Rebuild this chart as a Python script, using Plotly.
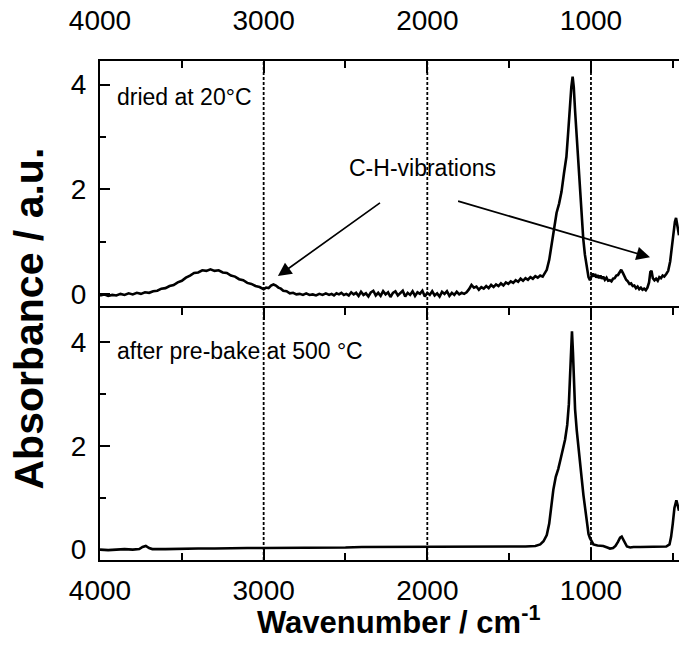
import plotly.graph_objects as go

# IR absorbance spectra, (wavenumber cm^-1, absorbance) pairs
dried = [
    (4000, -0.03), (3975, -0.01), (3950, -0.04), (3925, -0.02), (3900, -0.03),
    (3875, 0.00), (3850, -0.02), (3825, 0.01), (3800, -0.01), (3775, 0.02),
    (3750, 0.00), (3725, 0.03), (3700, 0.02), (3675, 0.05), (3650, 0.06),
    (3625, 0.10), (3600, 0.11), (3575, 0.15), (3550, 0.17), (3525, 0.22),
    (3500, 0.25), (3475, 0.31), (3450, 0.35), (3425, 0.40), (3400, 0.41),
    (3375, 0.45), (3350, 0.44), (3325, 0.47), (3300, 0.44), (3275, 0.45),
    (3250, 0.41), (3225, 0.40), (3200, 0.35), (3175, 0.33), (3150, 0.28),
    (3125, 0.26), (3100, 0.21), (3075, 0.19), (3050, 0.15), (3025, 0.13),
    (3000, 0.09), (2985, 0.12), (2970, 0.11), (2955, 0.16), (2940, 0.18),
    (2925, 0.16), (2910, 0.12), (2895, 0.10), (2880, 0.06), (2860, 0.05),
    (2840, 0.01), (2820, 0.02), (2800, -0.01), (2780, 0.00), (2760, -0.02),
    (2740, 0.01), (2720, -0.02), (2700, -0.01), (2680, -0.03), (2660, 0.00),
    (2640, -0.02), (2620, 0.01), (2600, -0.02), (2585, 0.00), (2570, -0.03),
    (2555, 0.01), (2540, -0.01), (2525, 0.02), (2510, -0.02), (2495, 0.00),
    (2480, -0.03), (2465, 0.03), (2450, -0.01), (2435, 0.02), (2420, -0.04),
    (2405, 0.04), (2390, -0.02), (2375, 0.01), (2360, -0.05), (2345, 0.03),
    (2330, 0.06), (2315, -0.03), (2300, 0.02), (2285, -0.04), (2270, 0.05),
    (2255, -0.01), (2240, 0.03), (2225, -0.06), (2210, 0.02), (2195, 0.05),
    (2180, -0.03), (2165, 0.01), (2150, 0.06), (2135, -0.05), (2120, 0.02),
    (2105, -0.02), (2090, 0.05), (2075, -0.04), (2060, 0.03), (2045, 0.00),
    (2030, 0.06), (2015, -0.05), (2000, 0.02), (1985, -0.02), (1970, 0.05),
    (1955, -0.03), (1940, 0.01), (1925, -0.05), (1910, 0.04), (1895, 0.00),
    (1880, 0.05), (1865, -0.04), (1850, 0.02), (1835, -0.02), (1820, 0.04),
    (1805, -0.01), (1790, 0.02), (1775, 0.00), (1760, 0.03), (1745, 0.09),
    (1730, 0.17), (1715, 0.12), (1700, 0.14), (1685, 0.08), (1670, 0.13),
    (1655, 0.10), (1640, 0.15), (1625, 0.11), (1610, 0.17), (1595, 0.13),
    (1580, 0.18), (1565, 0.15), (1550, 0.20), (1535, 0.16), (1520, 0.22),
    (1505, 0.19), (1490, 0.24), (1475, 0.21), (1460, 0.26), (1445, 0.23),
    (1430, 0.29), (1415, 0.25), (1400, 0.30), (1385, 0.27), (1370, 0.32),
    (1355, 0.29), (1340, 0.34), (1325, 0.31), (1310, 0.35), (1295, 0.33),
    (1285, 0.38), (1270, 0.46), (1255, 0.65), (1240, 0.95), (1225, 1.30),
    (1210, 1.55), (1195, 1.72), (1180, 1.95), (1165, 2.30), (1150, 2.62),
    (1140, 3.05), (1130, 3.55), (1120, 3.95), (1112, 4.15), (1105, 3.95),
    (1097, 3.50), (1087, 3.00), (1078, 2.55), (1068, 2.05), (1057, 1.45),
    (1047, 1.05), (1037, 0.75), (1026, 0.50), (1015, 0.32), (1006, 0.26),
    (998, 0.34), (990, 0.39), (982, 0.33), (975, 0.38), (967, 0.31),
    (960, 0.36), (950, 0.30), (942, 0.35), (933, 0.29), (925, 0.33),
    (915, 0.27), (905, 0.31), (895, 0.25), (885, 0.26), (875, 0.24),
    (865, 0.29), (855, 0.30), (845, 0.35), (835, 0.36), (825, 0.42),
    (815, 0.46), (805, 0.40), (795, 0.33), (785, 0.27), (775, 0.24),
    (765, 0.19), (755, 0.20), (745, 0.15), (735, 0.16), (725, 0.11),
    (715, 0.14), (705, 0.09), (695, 0.12), (685, 0.08), (675, 0.10),
    (665, 0.07), (655, 0.12), (645, 0.22), (637, 0.42), (630, 0.44),
    (622, 0.30), (612, 0.26), (602, 0.29), (592, 0.25), (582, 0.32),
    (572, 0.30), (562, 0.35), (552, 0.33), (540, 0.38), (528, 0.44),
    (516, 0.62), (505, 0.92), (495, 1.20), (487, 1.38), (480, 1.45),
    (472, 1.28), (462, 1.12),
]

prebake = [
    (4000, 0.00), (3950, -0.01), (3900, 0.00), (3850, 0.01), (3800, 0.00),
    (3760, 0.01), (3740, 0.05), (3720, 0.07), (3700, 0.03), (3680, 0.01),
    (3600, 0.01), (3500, 0.02), (3400, 0.02), (3300, 0.02), (3200, 0.03),
    (3100, 0.03), (3000, 0.03), (2900, 0.03), (2800, 0.04), (2700, 0.04),
    (2600, 0.04), (2500, 0.04), (2400, 0.05), (2300, 0.05), (2200, 0.05),
    (2100, 0.05), (2000, 0.05), (1900, 0.05), (1800, 0.06), (1700, 0.06),
    (1600, 0.06), (1500, 0.06), (1400, 0.06), (1340, 0.07), (1310, 0.10),
    (1290, 0.16), (1270, 0.28), (1255, 0.50), (1242, 0.85), (1230, 1.15),
    (1215, 1.40), (1200, 1.55), (1185, 1.75), (1170, 1.95), (1158, 2.12),
    (1145, 2.40), (1135, 2.80), (1127, 3.40), (1120, 3.95), (1116, 4.20),
    (1110, 3.80), (1104, 3.20), (1097, 2.70), (1087, 2.30), (1077, 1.95),
    (1067, 1.70), (1056, 1.35), (1046, 1.05), (1036, 0.80), (1025, 0.50),
    (1015, 0.30), (1006, 0.22), (995, 0.14), (985, 0.10), (960, 0.08),
    (925, 0.07), (900, 0.04), (884, 0.02), (865, 0.03), (850, 0.07),
    (835, 0.15), (822, 0.23), (812, 0.25), (800, 0.18), (790, 0.10),
    (780, 0.06), (760, 0.04), (740, 0.05), (700, 0.05), (660, 0.05),
    (620, 0.05), (580, 0.05), (540, 0.06), (520, 0.10), (510, 0.25),
    (500, 0.50), (490, 0.80), (478, 0.95), (470, 0.85), (462, 0.75),
]

wn_dried = [p[0] for p in dried]
abs_dried = [p[1] for p in dried]
wn_prebake = [p[0] for p in prebake]
abs_prebake = [p[1] for p in prebake]

x_major = [1000, 2000, 3000, 4000]
x_minor = [500, 1500, 2500, 3500]
y_major = [0, 2, 4]
y_minor = [1, 3]
guide_lines = [3000, 2000, 1000]

FONT = "Liberation Sans"
BLACK = "black"

fig = go.Figure()
fig.add_trace(go.Scatter(x=wn_prebake, y=abs_prebake, mode="lines",
                         line=dict(color=BLACK, width=2.6),
                         xaxis="x", yaxis="y", showlegend=False))
fig.add_trace(go.Scatter(x=wn_dried, y=abs_dried, mode="lines",
                         line=dict(color=BLACK, width=2.6),
                         xaxis="x2", yaxis="y2", showlegend=False))

x_common = dict(
    range=[4000, 462], tickmode="array", tickvals=x_major,
    ticks="inside", ticklen=12, tickwidth=1.5, tickcolor=BLACK,
    showline=True, linewidth=2, linecolor=BLACK,
    showgrid=False, zeroline=False,
    tickfont=dict(family=FONT, size=28, color=BLACK),
    minor=dict(tickmode="array", tickvals=x_minor, ticks="inside",
               ticklen=7, tickwidth=1.5, tickcolor=BLACK, showgrid=False),
)
y_common = dict(
    tickmode="array", tickvals=y_major,
    ticks="inside", ticklen=10, tickwidth=1.5, tickcolor=BLACK,
    showline=True, linewidth=2, linecolor=BLACK,
    showgrid=False, zeroline=False,
    tickfont=dict(family=FONT, size=28, color=BLACK),
    ticklabelstandoff=6,
    minor=dict(tickmode="array", tickvals=y_minor, ticks="inside",
               ticklen=6, tickwidth=1.5, tickcolor=BLACK, showgrid=False),
)

split = 0.505
fig.update_layout(
    width=679, height=646,
    margin=dict(l=100, r=0, t=61, b=86),
    paper_bgcolor="white", plot_bgcolor="white",
    xaxis=dict(**x_common, anchor="y", side="bottom", mirror="ticks",
               ticklabelstandoff=4),
    xaxis2=dict(**x_common, anchor="y2", side="top", matches="x",
                ticklabelstandoff=18),
    yaxis=dict(**y_common, domain=[0, split], range=[-0.2, 4.65], anchor="x"),
    yaxis2=dict(**y_common, domain=[split, 1], range=[-0.27, 4.45], anchor="x2"),
)

# dotted guides through both panels
for g in guide_lines:
    fig.add_shape(type="line", x0=g, x1=g, xref="x", y0=0, y1=1, yref="paper",
                  line=dict(color=BLACK, width=1.8, dash="3px,2px"), layer="above")

label_font = dict(family=FONT, size=23, color=BLACK)
fig.add_annotation(text="dried at 20°C", x=3911, y=3.77, xref="x2", yref="y2",
                   xanchor="left", yanchor="middle", showarrow=False, font=label_font)
fig.add_annotation(text="after pre-bake at 500 °C", x=3911, y=3.82, xref="x", yref="y",
                   xanchor="left", yanchor="middle", showarrow=False, font=label_font)
fig.add_annotation(text="C-H-vibrations", x=2030, y=2.40, xref="x2", yref="y2",
                   xanchor="center", yanchor="middle", showarrow=False, font=label_font)

# arrows pointing at the C-H bands
arrows = [((2280, 1.76), (2913, 0.34)), ((1821, 1.78), (639, 0.70))]
for (tx, ty), (hx, hy) in arrows:
    fig.add_annotation(x=hx, y=hy, ax=tx, ay=ty, xref="x2", yref="y2",
                       axref="x2", ayref="y2", text="", showarrow=True,
                       arrowhead=2, arrowsize=1.6, arrowwidth=1.7, arrowcolor=BLACK)

# axis titles
fig.add_annotation(text="<b>Absorbance / a.u.</b>", x=0, y=0.484, xref="paper", yref="paper",
                   xanchor="center", yanchor="middle", xshift=-71, textangle=-90,
                   showarrow=False, font=dict(family=FONT, size=41, color=BLACK))
fig.add_annotation(text="<b>Wavenumber / cm<sup>-1</sup></b>", x=0.515, y=-0.12,
                   xref="paper", yref="paper", xanchor="center", yanchor="middle",
                   showarrow=False, font=dict(family=FONT, size=31, color=BLACK))

fig.write_html("out.html")
